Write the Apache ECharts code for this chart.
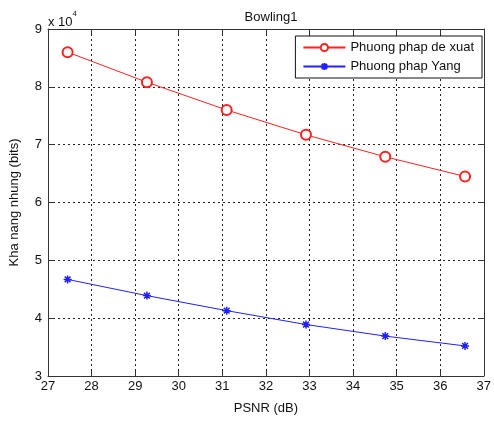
<!DOCTYPE html>
<html>
<head>
<meta charset="utf-8">
<script src="https://cdn.jsdelivr.net/npm/echarts@6/dist/echarts.min.js"></script>
<style>
  html, body { margin: 0; padding: 0; background: #fff; }
  #chart { width: 494px; height: 421px; }
</style>
</head>
<body>
<div id="chart"></div>
<script>
// du lieu doc tu hinh
const psnr = [27.45, 29.27, 31.1, 32.92, 34.74, 36.57];
const deXuat = [86000, 80800, 76000, 71700, 67900, 64500];
const yang = [46700, 43900, 41300, 38900, 36900, 35200];
const seriesNames = ['Phuong phap de xuat', 'Phuong phap Yang'];

const font = 'Liberation Sans, Arial, sans-serif';
const myChart = echarts.init(document.getElementById('chart'));

const asterisk = 'path://M0,-5L0,5M-5,0L5,0M-3.6,-3.6L3.6,3.6M-3.6,3.6L3.6,-3.6';

const gridLine = { show: true, lineStyle: { color: '#222', type: [2, 3], width: 1 } };
const frameLine = { show: true, onZero: false, lineStyle: { color: '#333', width: 1 } };
const tickIn = { show: true, inside: true, length: 5, lineStyle: { color: '#333' } };

const option = {
  animation: false,
  textStyle: { fontFamily: font },
  title: [
    {
      text: 'Bowling1',
      left: 266, top: 6, textAlign: 'center',
      textStyle: { fontSize: 13, fontWeight: 'normal', color: '#111', fontFamily: font }
    },
    {
      text: '{a|x 10}{b|4}',
      left: 43, top: 5,
      textStyle: {
        fontWeight: 'normal',
        rich: {
          a: { fontSize: 13, fontWeight: 'normal', color: '#111', fontFamily: font, verticalAlign: 'bottom', padding: [6, 0, 0, 0] },
          b: { fontSize: 8, fontWeight: 'normal', color: '#111', fontFamily: font, verticalAlign: 'top' }
        }
      }
    }
  ],
  legend: {
    right: 12, top: 36,
    orient: 'vertical',
    backgroundColor: '#fff',
    borderColor: '#111', borderWidth: 1,
    padding: [5, 8, 5, 7],
    itemGap: 6,
    itemWidth: 42, itemHeight: 9,
    textStyle: { fontSize: 13, color: '#111', fontFamily: font },
    data: seriesNames
  },
  grid: { left: 45, top: 29, right: 7, bottom: 45, containLabel: false },
  xAxis: [
    {
      type: 'value', min: 27, max: 37, interval: 1,
      name: 'PSNR (dB)', nameLocation: 'middle', nameGap: 26,
      nameTextStyle: { fontSize: 13, color: '#111', fontFamily: font },
      axisLine: frameLine, axisTick: tickIn,
      axisLabel: { fontSize: 13, color: '#111', margin: 4, fontFamily: font },
      splitLine: gridLine
    },
    {
      type: 'value', min: 27, max: 37, interval: 1, position: 'top',
      axisLine: frameLine, axisTick: tickIn,
      axisLabel: { show: false }, splitLine: { show: false }
    }
  ],
  yAxis: [
    {
      type: 'value', min: 30000, max: 90000, interval: 10000,
      name: 'Kha nang nhung (bits)', nameLocation: 'middle', nameGap: 27,
      nameTextStyle: { fontSize: 13, color: '#111', fontFamily: font },
      axisLine: frameLine, axisTick: tickIn,
      axisLabel: { fontSize: 13, color: '#111', margin: 6, fontFamily: font, formatter: v => v / 10000 },
      splitLine: gridLine
    },
    {
      type: 'value', min: 30000, max: 90000, interval: 10000, position: 'right',
      axisLine: frameLine, axisTick: tickIn,
      axisLabel: { show: false }, splitLine: { show: false }
    }
  ],
  series: [
    {
      name: seriesNames[0], type: 'line',
      data: psnr.map((x, i) => [x, deXuat[i]]),
      symbol: 'emptyCircle', symbolSize: 10,
      lineStyle: { color: '#ff2020', width: 1 },
      itemStyle: { color: '#ff2020', borderColor: '#ff2020', borderWidth: 1 }
    },
    {
      name: seriesNames[1], type: 'line',
      data: psnr.map((x, i) => [x, yang[i]]),
      symbol: asterisk, symbolSize: 8,
      lineStyle: { color: '#2020ff', width: 1 },
      itemStyle: { color: '#2020ff', borderColor: '#2020ff', borderWidth: 1.5 }
    }
  ]
};

myChart.setOption(option);
</script>
</body>
</html>
